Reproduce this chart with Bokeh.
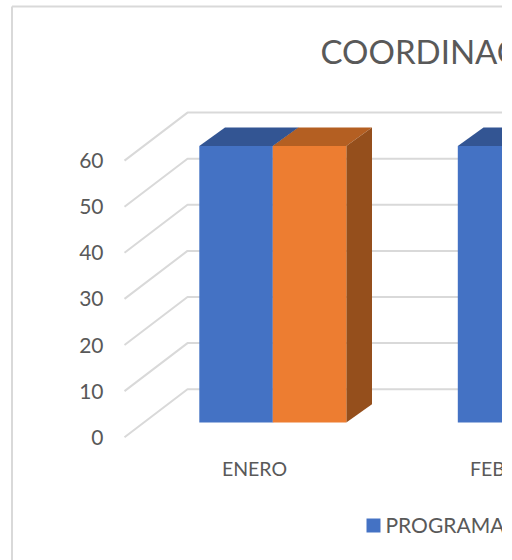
from bokeh.plotting import figure
from bokeh.models import Range1d, FixedTicker
from bokeh.core.properties import value
from bokeh.embed import file_html
from bokeh.resources import INLINE

categories = ["ENERO", "FEBRERO"]
programadas = [60, 60]
realizadas = [60]
y_ticks = [0, 10, 20, 30, 40, 50, 60]
title_text = "COORDINACIÓN"
legend_first = "PROGRAMADAS"

W, H = 502, 560
PX_Y = 4.61            # pixels per value unit
Y0 = 436.7             # pixel row of value 0 on the front plane
def val(py): return (Y0 - py) / PX_Y
PX_X = 258.5           # pixels per category
X0 = 254.0             # pixel column of the first category label
def cat(px): return (px - X0) / PX_X

FONT = "Lato"
TXT = "#595959"
GRID = "#d9d9d9"

p = figure(width=W, height=H, output_backend="svg", toolbar_location=None,
           x_range=Range1d(cat(0), cat(W)), y_range=Range1d(val(H), val(0)),
           min_border=0, margin=(0, 0, 0, 0), outline_line_color=None,
           background_fill_color="white", border_fill_color="white")
p.grid.visible = False

# depth of the 3-D box, in data units
DX, DY = 63 / PX_X, 48 / PX_Y
BAR_W = 73.5 / PX_X
BAR_DX, BAR_DY = 25.7 / PX_X, 18.3 / PX_Y   # visible depth of a bar
BAR_SHIFT_X, BAR_SHIFT_Y = 18.3 / PX_X, 14.7 / PX_Y   # bar front relative to the axis plane

# value axis placed inside the frame
p.yaxis.fixed_location = cat(118)
p.yaxis.ticker = FixedTicker(ticks=y_ticks)
p.yaxis.axis_line_color = None
p.yaxis.major_tick_line_color = None
p.yaxis.minor_tick_line_color = None
p.yaxis.major_tick_out = 0
p.yaxis.major_tick_in = 0
p.yaxis.major_label_text_font = FONT
p.yaxis.major_label_text_font_size = "21px"
p.yaxis.major_label_text_color = TXT
p.yaxis.major_label_standoff = 15
p.xaxis.visible = False

# chart border
p.line([cat(11.5), cat(11.5)], [val(6), val(H)], line_color=GRID, line_width=2)
p.line([cat(11.5), cat(W)], [val(6), val(6)], line_color=GRID, line_width=2)

# gridlines: wall diagonal + back horizontal
xl = cat(124)
for v in y_ticks:
    p.line([xl, xl + DX, cat(W)], [v, v + DY, v + DY], line_color=GRID, line_width=2)

def bar(x_left, v, front, top, side):
    bottom = BAR_SHIFT_Y
    x_r = x_left + BAR_W
    p.patch([x_left, x_left + BAR_DX, x_r + BAR_DX, x_r],
            [v + bottom, v + bottom + BAR_DY, v + bottom + BAR_DY, v + bottom],
            fill_color=top, line_color=None)
    p.patch([x_r, x_r + BAR_DX, x_r + BAR_DX, x_r],
            [bottom, bottom + BAR_DY, v + bottom + BAR_DY, v + bottom],
            fill_color=side, line_color=None)
    p.patch([x_left, x_r, x_r, x_left], [bottom, bottom, v + bottom, v + bottom],
            fill_color=front, line_color=None)

for i, v in enumerate(programadas):
    bar(i + BAR_SHIFT_X - BAR_W, v, "#4472c4", "#335593", "#335593")
for i, v in enumerate(realizadas):
    bar(i + BAR_SHIFT_X, v, "#ed7d31", "#b45f22", "#954f1c")

# category labels (the second runs past the picture's right edge)
p.text(list(range(len(categories))), [val(468)] * len(categories), text=categories,
       text_font=value(FONT), text_font_size="19.5px", text_color=TXT,
       text_baseline="middle", text_align="center")

# title
p.text([cat(320)], [val(50)], text=[title_text], text_font=value(FONT), text_font_size="33px",
       text_color=TXT, text_baseline="middle", text_align="left")

# legend
p.scatter([cat(373)], [val(525)], marker="square", size=14, fill_color="#4472c4", line_color=None)
p.text([cat(385)], [val(524)], text=[legend_first], text_font=value(FONT), text_font_size="21px",
       text_color=TXT, text_baseline="middle", text_align="left")

open("out.html", "w").write(file_html(p, INLINE))
